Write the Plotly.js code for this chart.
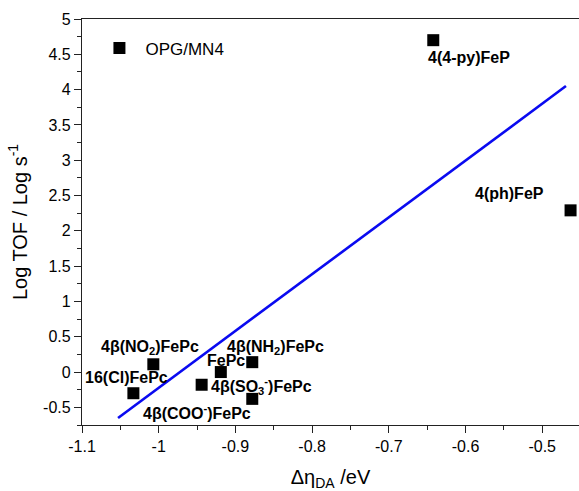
<!DOCTYPE html>
<html>
<head>
<meta charset="utf-8">
<script src="https://cdn.plot.ly/plotly-3.0.1.min.js"></script>
<style>html,body{margin:0;padding:0;background:#fff;}</style>
</head>
<body>
<div id="chart" style="width:579px;height:491px;"></div>
<script>
// ---- data ----
const pointNames = ["4(4-py)FeP", "4(ph)FeP", "4β(NO<sub>2</sub>)FePc", "16(Cl)FePc", "4β(SO<sub>3</sub><sup>-</sup>)FePc", "FePc", "4β(NH<sub>2</sub>)FePc", "4β(COO<sup>-</sup>)FePc"];
const deltaEta = [-0.642, -0.463, -1.007, -1.033, -0.944, -0.919, -0.878, -0.878];
const logTOF   = [4.70, 2.29, 0.11, -0.30, -0.18, 0.00, 0.14, -0.38];
const fitX = [-1.053, -0.469];
const fitY = [-0.65, 4.05];
const xTickVals = [-1.1, -1.0, -0.9, -0.8, -0.7, -0.6, -0.5];
const xTickText = ["-1.1", "-1", "-0.9", "-0.8", "-0.7", "-0.6", "-0.5"];
const yTickVals = [-0.5, 0, 0.5, 1, 1.5, 2, 2.5, 3, 3.5, 4, 4.5, 5];
const yTickText = ["-0.5", "0", "0.5", "1", "1.5", "2", "2.5", "3", "3.5", "4", "4.5", "5"];
// label placement (pixel offsets from each point)
const labelAnchor = ["left", "right", "center", "center", "left", "center", "left", "right"];
const labelDx = [-7, -25, -3, -7, 7, 5, -27, 1];
const labelDy = [-17, 17, 17, 16, -1, 12, 15, -13];

const scatter = {
  x: deltaEta, y: logTOF, type: "scatter", mode: "markers", name: "OPG/MN4",
  marker: {symbol: "square", size: 12, color: "#000"}, showlegend: true
};
const fit = {
  x: fitX, y: fitY, type: "scatter", mode: "lines", showlegend: false,
  line: {color: "rgb(10,10,240)", width: 2.6}
};

const annotations = pointNames.map((t, i) => ({
  x: deltaEta[i], y: logTOF[i], xref: "x", yref: "y", text: t, showarrow: false,
  xanchor: labelAnchor[i], yanchor: "middle", xshift: labelDx[i], yshift: labelDy[i],
  font: {family: "Liberation Sans, Arial, sans-serif", size: 16, color: "#000", weight: "bold"}
}));

const axisCommon = {
  showline: true, linecolor: "#222", linewidth: 1.3, ticks: "outside", ticklen: 7,
  tickwidth: 1.3, tickcolor: "#222", showgrid: false, zeroline: false,
  tickfont: {family: "Liberation Sans, Arial, sans-serif", size: 16, color: "#000"},
  tickmode: "array"
};

const layout = {
  width: 579, height: 491,
  margin: {l: 82, r: 0, t: 19, b: 66},
  paper_bgcolor: "#fff", plot_bgcolor: "#fff",
  font: {family: "Liberation Sans, Arial, sans-serif", color: "#000"},
  xaxis: Object.assign({}, axisCommon, {
    range: [-1.1, -0.452], tickvals: xTickVals, ticktext: xTickText, mirror: true,
    minor: {dtick: 0.05, tick0: -1.1, ticks: "outside", ticklen: 4, tickcolor: "#222", tickwidth: 1.2},
    title: {text: "Δη<sub>DA</sub> /eV", font: {size: 20, color: "#000"}, standoff: 20}
  }),
  yaxis: Object.assign({}, axisCommon, {
    range: [-0.75, 5], tickvals: yTickVals, ticktext: yTickText,
    minor: {dtick: 0.25, tick0: 0, ticks: "outside", ticklen: 4, tickcolor: "#222", tickwidth: 1.2},
    title: {text: "Log TOF / Log s<sup>-1</sup>", font: {size: 20, color: "#000"}, standoff: 10}
  }),
  legend: {x: 0.023, y: 0.972, xanchor: "left", yanchor: "top", bgcolor: "rgba(0,0,0,0)",
    itemwidth: 42, font: {size: 17, color: "#000"}},
  annotations: annotations
};

Plotly.newPlot("chart", [fit, scatter], layout, {displayModeBar: false});
</script>
</body>
</html>
